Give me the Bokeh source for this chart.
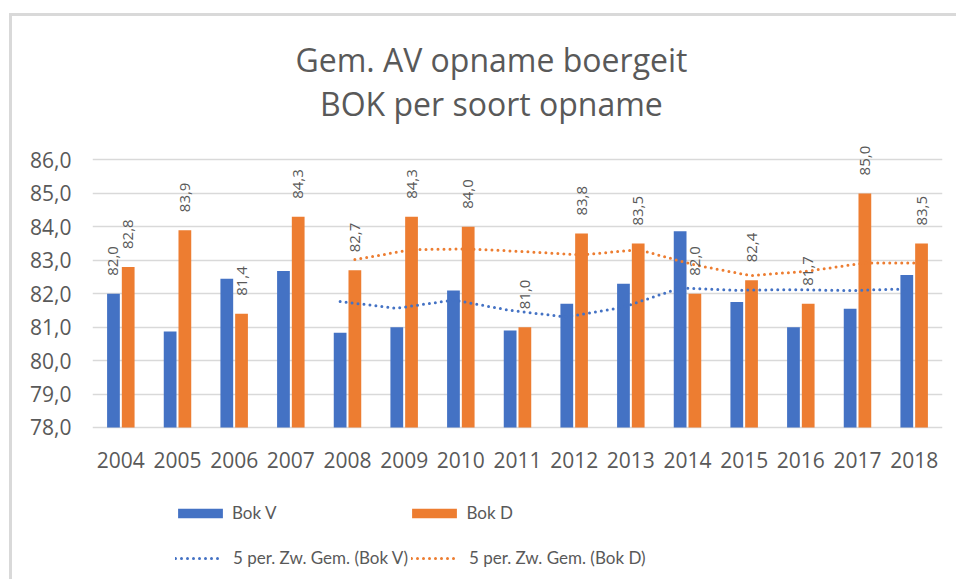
import pandas as pd
from math import pi
from bokeh.plotting import figure
from bokeh.models import (ColumnDataSource, FactorRange, Range1d, FixedTicker, Label,
                          Legend, LegendItem, CustomJSTickFormatter)
from bokeh.transform import dodge
from bokeh.embed import file_html
from bokeh.resources import INLINE
from bokeh.core.properties import value

# ---------------- data ----------------
years = ["2004", "2005", "2006", "2007", "2008", "2009", "2010", "2011",
         "2012", "2013", "2014", "2015", "2016", "2017", "2018"]
bok_v = [82.0, 80.87, 82.45, 82.68, 80.83, 81.0, 82.1, 80.9,
         81.7, 82.3, 83.87, 81.75, 81.0, 81.55, 82.56]
bok_d = [82.8, 83.9, 81.4, 84.3, 82.7, 84.3, 84.0, 81.0,
         83.8, 83.5, 82.0, 82.4, 81.7, 85.0, 83.5]
v_labelled_years = ["2004"]
y_ticks = [78, 79, 80, 81, 82, 83, 84, 85, 86]
ma_period = 5
title_lines = ["Gem. AV opname boergeit", "BOK per soort opname"]
series_names = ["Bok V", "Bok D"]
ma_names = ["5 per. Zw. Gem. (Bok V)", "5 per. Zw. Gem. (Bok D)"]

BLUE = "#4472C4"
ORANGE = "#ED7D31"
GREY_TXT = "#595959"
GRID = "#d9d9d9"
FONT = "Open Sans"
LEG_FONT = "Lato"

def fmt(v):
    return f"{v:.1f}".replace(".", ",")

df = pd.DataFrame({"years": years, "v": bok_v, "d": bok_d})
df["v_lab"] = [fmt(v) if y in v_labelled_years else "" for y, v in zip(years, bok_v)]
df["d_lab"] = [fmt(v) for v in bok_d]
df["ma_v"] = df["v"].rolling(ma_period).mean()
df["ma_d"] = df["d"].rolling(ma_period).mean()
src = ColumnDataSource(df)
ma_src = ColumnDataSource(df.dropna(subset=["ma_v"]))

base = y_ticks[0]
p = figure(width=947, height=566, x_range=FactorRange(*years, range_padding=0),
           y_range=Range1d(73.365, 90.29), output_backend="svg", toolbar_location=None,
           min_border_left=80, min_border_right=17, min_border_top=0, min_border_bottom=0)
p.title = None
p.outline_line_color = None
p.background_fill_color = "white"
p.border_fill_color = "white"
p.styles = {"margin-left": "9px", "margin-top": "13px",
            "border-left": "3px solid #d9d9d9", "border-top": "3px solid #d9d9d9"}

off = 0.13
bw = 0.225
rv = p.vbar(x=dodge("years", -off, range=p.x_range), top="v", bottom=base, width=bw,
            source=src, fill_color=BLUE, line_color=None)
rd = p.vbar(x=dodge("years", off, range=p.x_range), top="d", bottom=base, width=bw,
            source=src, fill_color=ORANGE, line_color=None)

rmv = p.line(x=dodge("years", -off, range=p.x_range), y="ma_v", source=ma_src,
             line_color=BLUE, line_width=3, line_dash="0 6", line_cap="round")
rmd = p.line(x=dodge("years", off, range=p.x_range), y="ma_d", source=ma_src,
             line_color=ORANGE, line_width=3, line_dash="0 6", line_cap="round")

for col, o in (("v_lab", -off), ("d_lab", off)):
    top = "v" if col == "v_lab" else "d"
    p.text(x=dodge("years", o, range=p.x_range), y=top, text=col, source=src,
           angle=pi / 2, text_align="left", text_baseline="middle", y_offset=-18,
           text_font=value(FONT), text_font_size="15px", text_color=GREY_TXT)

# axes / grid
p.xgrid.grid_line_color = None
p.ygrid.ticker = FixedTicker(ticks=y_ticks)
p.ygrid.grid_line_color = GRID
p.ygrid.grid_line_width = 1.5

p.yaxis.ticker = FixedTicker(ticks=y_ticks)
p.yaxis.formatter = CustomJSTickFormatter(code="return tick.toFixed(1).replace('.', ',')")
p.yaxis.axis_line_color = None
p.yaxis.major_tick_line_color = None
p.yaxis.minor_tick_line_color = None
p.yaxis.major_tick_out = 0
p.yaxis.major_label_standoff = 21
p.yaxis.major_label_text_font = FONT
p.yaxis.major_label_text_font_size = "21px"
p.yaxis.major_label_text_color = GREY_TXT

p.xaxis.fixed_location = base
p.xaxis.axis_line_color = None
p.xaxis.major_tick_line_color = None
p.xaxis.major_tick_out = 0
p.xaxis.major_label_standoff = 25
p.xaxis.major_label_text_font = FONT
p.xaxis.major_label_text_font_size = "21px"
p.xaxis.major_label_text_color = GREY_TXT

# title
for txt, yv in zip(title_lines, (89.0, 87.69)):
    p.add_layout(Label(x=7.04, y=yv, text=txt, text_align="center",
                       text_baseline="alphabetic", text_font=FONT,
                       text_font_size="32px", text_color=GREY_TXT))

# legends
common = dict(orientation="horizontal", padding=0, margin=0, border_line_color=None,
              background_fill_alpha=0, label_text_font=LEG_FONT, label_text_font_size="17px",
              label_text_color=GREY_TXT, label_height=20)
leg1 = Legend(items=[LegendItem(label=series_names[0], renderers=[rv]),
                     LegendItem(label=series_names[1], renderers=[rd])],
              location=(80, 59), spacing=130, glyph_width=56, glyph_height=12,
              label_standoff=4, **common)
leg2 = Legend(items=[LegendItem(label=ma_names[0], renderers=[rmv]),
                     LegendItem(label=ma_names[1], renderers=[rmd])],
              location=(83, 14), spacing=3, glyph_width=48, glyph_height=20,
              label_standoff=10, **common)
p.add_layout(leg1)
p.add_layout(leg2)

open("out.html", "w").write(file_html(p, INLINE))
